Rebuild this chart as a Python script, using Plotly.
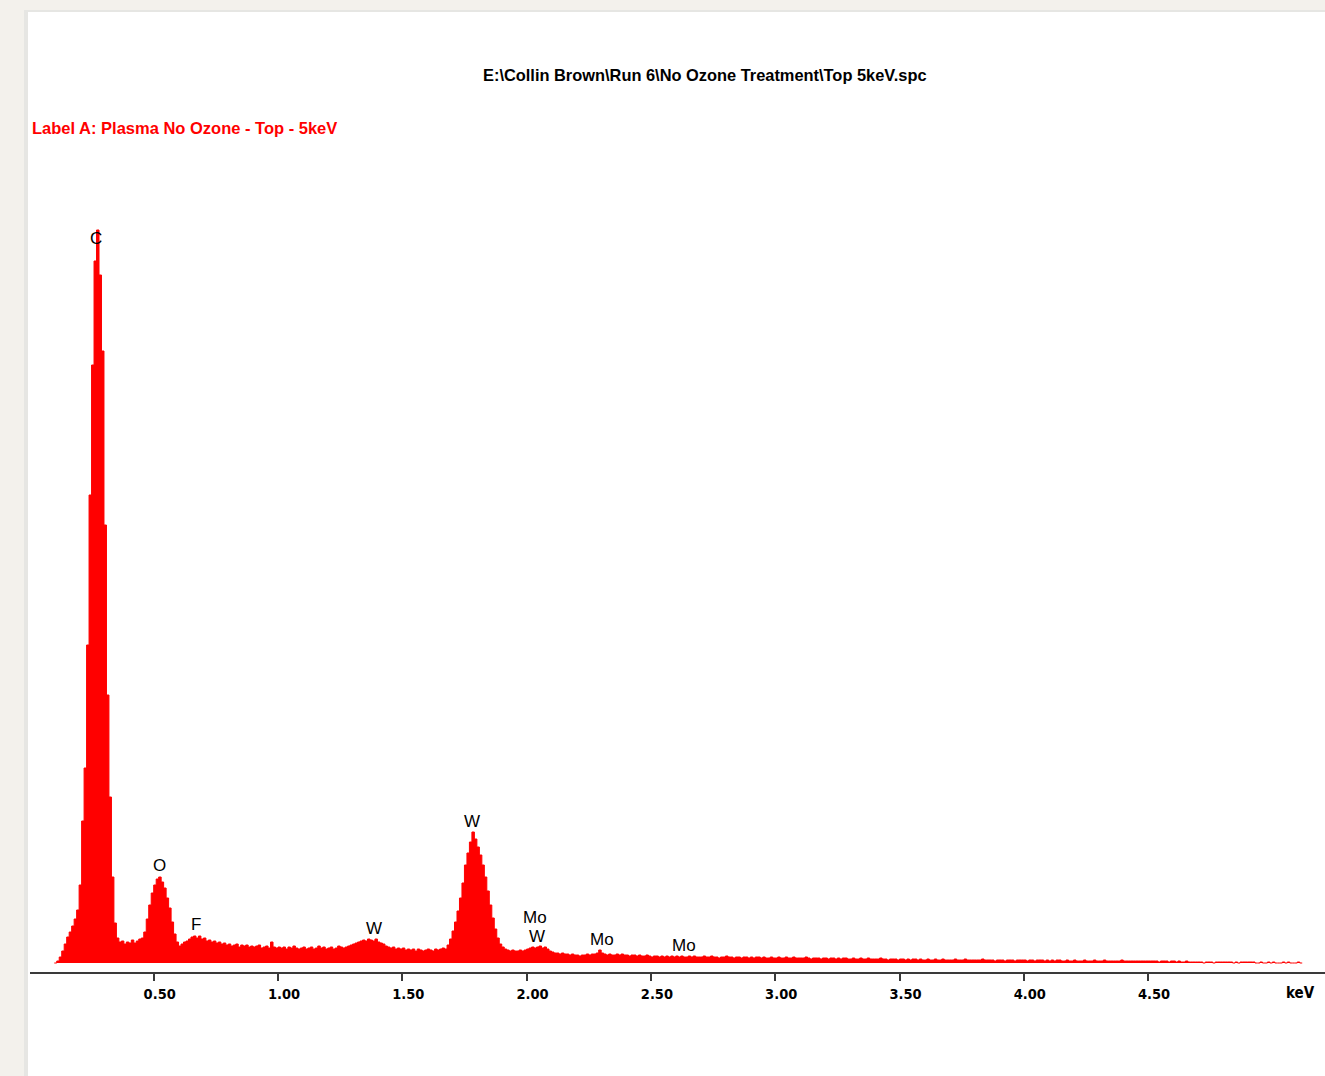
import numpy as np
import plotly.graph_objects as go

# ---- data ----
start_kev = 0.10
channel_kev = 0.01
counts = [
    0, 2, 6, 12, 19, 26, 31, 37, 44, 53,
    78, 142, 195, 318, 468, 598, 702, 733, 688, 612,
    438, 268, 166, 86, 40, 25, 21, 22, 19, 21,
    20, 23, 20, 22, 24, 25, 31, 44, 58, 70,
    78, 84, 86, 81, 75, 65, 55, 41, 29, 21,
    17, 19, 21, 22, 24, 26, 27, 25, 27, 24,
    25, 22, 23, 21, 22, 20, 21, 19, 20, 18,
    19, 17, 18, 19, 16, 18, 17, 18, 16, 17,
    16, 17, 18, 15, 16, 17, 15, 21, 16, 15,
    16, 15, 16, 14, 16, 15, 17, 15, 14, 15,
    16, 14, 15, 16, 14, 15, 17, 15, 16, 14,
    15, 16, 14, 15, 17, 16, 15, 16, 17, 18,
    19, 20, 21, 22, 23, 22, 24, 23, 22, 24,
    21, 20, 19, 17, 16, 15, 16, 14, 15, 14,
    15, 13, 14, 13, 14, 12, 14, 13, 12, 13,
    14, 13, 12, 14, 13, 14, 15, 14, 18, 24,
    32, 41, 52, 65, 80, 98, 110, 121, 131, 124,
    116, 108, 98, 86, 72, 58, 45, 34, 25, 19,
    16, 14, 13, 12, 13, 12, 12, 13, 12, 13,
    14, 15, 16, 15, 16, 17, 15, 16, 14, 12,
    11, 10, 10, 9, 10, 9, 9, 8, 9, 8,
    8, 7, 8, 8, 9, 8, 9, 9, 10, 13,
    10, 9, 8, 9, 8, 8, 9, 8, 9, 8,
    8, 7, 8, 8, 7, 8, 7, 7, 8, 7,
    6, 7, 7, 6, 7, 6, 7, 6, 7, 6,
    7, 6, 7, 6, 6, 7, 6, 7, 6, 6,
    6, 7, 6, 6, 7, 6, 6, 5, 6, 6,
    7, 6, 6, 5, 6, 6, 5, 6, 6, 5,
    6, 5, 6, 6, 5, 6, 5, 5, 6, 5,
    5, 6, 5, 5, 6, 5, 5, 6, 5, 5,
    5, 5, 6, 5, 4, 5, 5, 5, 4, 5,
    5, 4, 5, 5, 4, 5, 4, 5, 5, 4,
    4, 5, 4, 4, 5, 4, 4, 5, 4, 4,
    4, 4, 5, 4, 4, 3, 4, 4, 4, 3,
    4, 4, 3, 4, 3, 4, 4, 3, 4, 3,
    3, 4, 3, 3, 4, 3, 3, 4, 3, 3,
    3, 3, 4, 3, 3, 3, 4, 3, 3, 3,
    3, 3, 3, 4, 3, 3, 3, 3, 2, 3,
    3, 3, 2, 3, 3, 3, 2, 3, 3, 3,
    3, 2, 3, 3, 2, 3, 3, 3, 2, 3,
    2, 3, 2, 3, 3, 2, 2, 3, 2, 2,
    3, 2, 2, 2, 3, 2, 2, 2, 3, 2,
    2, 2, 3, 2, 2, 2, 2, 2, 2, 3,
    2, 2, 2, 2, 2, 2, 2, 2, 2, 2,
    2, 2, 2, 2, 1, 2, 2, 2, 1, 2,
    2, 1, 2, 1, 1, 2, 1, 1, 1, 1,
    1, 1, 0, 1, 1, 1, 0, 1, 1, 1,
    1, 1, 1, 1, 0, 1, 0, 1, 1, 1,
    1, 1, 1, 0, 0, 1, 0, 0, 1, 0,
    1, 0, 0, 0, 1, 0, 1, 0, 0, 0,
    1, 0, 0,
]
tick_values = [0.5, 1.0, 1.5, 2.0, 2.5, 3.0, 3.5, 4.0, 4.5]
tick_labels = ["0.50", "1.00", "1.50", "2.00", "2.50", "3.00", "3.50", "4.00", "4.50"]
peak_names = ["C", "O", "F", "W", "W", "Mo", "W", "Mo", "Mo"]
peak_kev = [0.268, 0.525, 0.670, 1.386, 1.780, 2.034, 2.042, 2.303, 2.633]
peak_label_y = [725, 98, 39, 35, 142, 46, 27, 24, 18]

title_text = "E:\\Collin Brown\\Run 6\\No Ozone Treatment\\Top 5keV.spc"
label_text = "Label A: Plasma No Ozone - Top - 5keV"

energy = np.round(start_kev + channel_kev * np.arange(len(counts)), 2)

# ---- layout geometry (pixels) ----
W, H = 1325, 1076
ML, MR, MT, MB = 30, 0, 100, 104
plot_w = W - ML - MR
plot_h = H - MT - MB
px_per_kev = 248.6
x0_px = 29.4
xr = [(ML - x0_px) / px_per_kev, (ML - x0_px + plot_w) / px_per_kev]
yr = [-9, -9 + plot_h]


def px2paper_x(px):
    return (px - ML) / plot_w


def px2paper_y(py):
    return (H - MB - py) / plot_h


fig = go.Figure()
fig.add_trace(go.Scatter(
    x=energy, y=counts, mode="lines", line=dict(color="#ff0000", width=1, shape="hv"),
    fill="tozeroy", fillcolor="#ff0000", hoverinfo="x+y", showlegend=False,
))

shapes = [
    dict(type="rect", xref="paper", yref="paper", layer="below",
         x0=px2paper_x(24), x1=px2paper_x(W + 5), y0=px2paper_y(H + 5), y1=px2paper_y(10),
         fillcolor="#e6e6e3", line_width=0),
    dict(type="rect", xref="paper", yref="paper", layer="below",
         x0=px2paper_x(28), x1=px2paper_x(W + 5), y0=px2paper_y(H + 5), y1=px2paper_y(12),
         fillcolor="#ffffff", line_width=0),
]

annotations = [
    dict(text=title_text, xref="paper", yref="paper", x=px2paper_x(705), y=px2paper_y(75),
         xanchor="center", yanchor="middle", showarrow=False,
         font=dict(family="Liberation Sans, Arial", size=16.4, color="#000000", weight="bold")),
    dict(text=label_text, xref="paper", yref="paper", x=px2paper_x(30), y=px2paper_y(128),
         xanchor="left", yanchor="middle", showarrow=False,
         font=dict(family="Liberation Sans, Arial", size=16.5, color="#ff0000", weight="bold")),
    dict(text="keV", xref="paper", yref="paper", x=px2paper_x(1300), y=px2paper_y(993),
         xanchor="center", yanchor="middle", showarrow=False,
         font=dict(family="DejaVu Sans Condensed, Liberation Sans", size=15, color="#000000", weight="bold")),
]
for name, xk, yk in zip(peak_names, peak_kev, peak_label_y):
    annotations.append(dict(text=name, x=xk, y=yk, xref="x", yref="y", showarrow=False,
                            xanchor="center", yanchor="middle",
                            font=dict(family="Liberation Sans, Arial", size=17, color="#000000")))

fig.update_layout(
    width=W, height=H,
    margin=dict(l=ML, r=MR, t=MT, b=MB, pad=0),
    paper_bgcolor="#f3f1ec",
    plot_bgcolor="rgba(0,0,0,0)",
    shapes=shapes,
    annotations=annotations,
    xaxis=dict(range=xr, showgrid=False, zeroline=False, showline=True,
               linecolor="#3a3a3a", linewidth=1.5,
               ticks="outside", ticklen=7, tickwidth=1.5, tickcolor="#3a3a3a",
               tickvals=tick_values, ticktext=tick_labels, ticklabelstandoff=1,
               ticklabelshift=6,
               tickfont=dict(family="DejaVu Sans Condensed, Liberation Sans", size=14.5,
                             color="#000000", weight="bold"),
               fixedrange=True),
    yaxis=dict(range=yr, visible=False, showgrid=False, zeroline=False, fixedrange=True),
)

fig.write_html("out.html", post_script="document.body.style.margin='0';",
               config={"displayModeBar": False})
